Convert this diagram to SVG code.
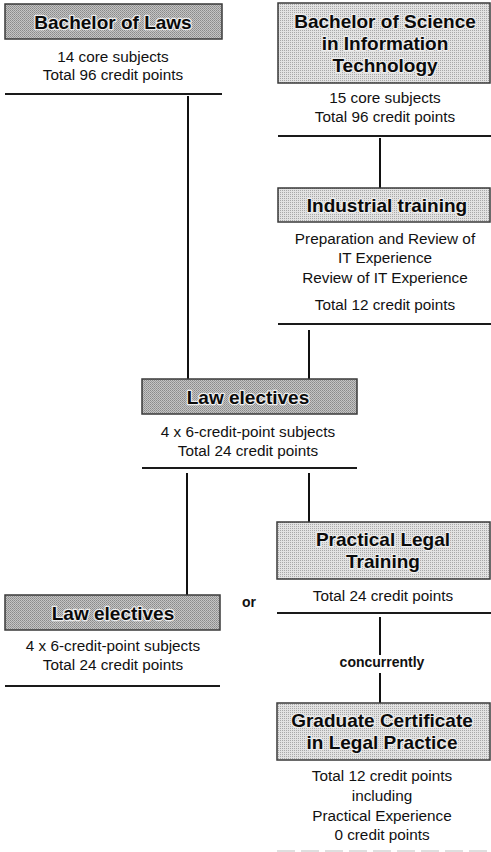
<svg xmlns="http://www.w3.org/2000/svg" width="491" height="852" viewBox="0 0 491 852">
<defs>
<pattern id="htDark" width="2" height="2" patternUnits="userSpaceOnUse">
<rect width="2" height="2" fill="#c4c4c4"/>
<rect width="1" height="1" fill="#8a8a8a"/>
<rect x="1" y="1" width="1" height="1" fill="#9a9a9a"/>
</pattern>
<pattern id="htLight" width="2" height="2" patternUnits="userSpaceOnUse">
<rect width="2" height="2" fill="#e2e2e2"/>
<rect width="1" height="1" fill="#a8a8a8"/>
</pattern>
<style>
.box{stroke:#3a3a3a;stroke-width:1.5}
.dark{fill:url(#htDark)}
.light{fill:url(#htLight)}
.title{font-family:"Liberation Sans",Arial,sans-serif;font-weight:bold;font-size:19px;fill:#0a0a0a;text-anchor:middle;stroke:#ececec;stroke-width:2.5;paint-order:stroke;stroke-linejoin:round}
.body{font-family:"Liberation Sans",Arial,sans-serif;font-size:15.3px;fill:#111;text-anchor:middle}
.lbl{font-family:"Liberation Sans",Arial,sans-serif;font-weight:bold;font-size:14px;fill:#111;text-anchor:middle}
.rule{stroke:#1a1a1a;stroke-width:2}
.conn{stroke:#111;stroke-width:2;fill:none}
</style>
</defs>
<rect width="491" height="852" fill="#ffffff"/>

<g id="connectors">
<line class="conn" x1="188" y1="96" x2="188" y2="379"/>
<line class="conn" x1="380" y1="138" x2="380" y2="188"/>
<line class="conn" x1="309" y1="330" x2="309" y2="379"/>
<line class="conn" x1="187" y1="473" x2="187" y2="595"/>
<line class="conn" x1="309" y1="473" x2="309" y2="522"/>
<line class="conn" x1="380" y1="617" x2="380" y2="655"/>
<line class="conn" x1="380" y1="673" x2="380" y2="703"/>
<text class="lbl" x="382" y="667">concurrently</text>
<text class="lbl" x="249" y="607">or</text>
</g>

<g id="bachelor-laws">
<rect class="box dark" x="5" y="4" width="217" height="35"/>
<text class="title" x="113" y="29" font-size="18.5">Bachelor of Laws</text>
<text class="body" x="113" y="62">14 core subjects</text>
<text class="body" x="113" y="80">Total 96 credit points</text>
<line class="rule" x1="5" y1="94" x2="222" y2="94"/>
</g>

<g id="bachelor-it">
<rect class="box light" x="278" y="3" width="212" height="80"/>
<text class="title" x="385" y="28">Bachelor of Science</text>
<text class="title" x="385" y="50">in Information</text>
<text class="title" x="385" y="72">Technology</text>
<text class="body" x="385" y="103">15 core subjects</text>
<text class="body" x="385" y="122">Total 96 credit points</text>
<line class="rule" x1="278" y1="136" x2="491" y2="136"/>
</g>

<g id="industrial-training">
<rect class="box light" x="278" y="188" width="212" height="34"/>
<text class="title" x="387" y="212">Industrial training</text>
<text class="body" x="385" y="244">Preparation and Review of</text>
<text class="body" x="385" y="263">IT Experience</text>
<text class="body" x="385" y="283">Review of IT Experience</text>
<text class="body" x="385" y="310">Total 12 credit points</text>
<line class="rule" x1="278" y1="324" x2="491" y2="324"/>
</g>

<g id="law-electives-1">
<rect class="box dark" x="142" y="379" width="215" height="35"/>
<text class="title" x="248" y="404">Law electives</text>
<text class="body" x="248" y="437">4 x 6-credit-point subjects</text>
<text class="body" x="248" y="456">Total 24 credit points</text>
<line class="rule" x1="142" y1="468" x2="357" y2="468"/>
</g>

<g id="practical-legal-training">
<rect class="box light" x="277" y="522" width="213" height="57"/>
<text class="title" x="383" y="546">Practical Legal</text>
<text class="title" x="383" y="568">Training</text>
<text class="body" x="383" y="601">Total 24 credit points</text>
<line class="rule" x1="277" y1="613" x2="491" y2="613"/>
</g>

<g id="law-electives-2">
<rect class="box dark" x="5" y="595" width="215" height="35"/>
<text class="title" x="113" y="620">Law electives</text>
<text class="body" x="113" y="651">4 x 6-credit-point subjects</text>
<text class="body" x="113" y="670">Total 24 credit points</text>
<line class="rule" x1="5" y1="686" x2="220" y2="686"/>
</g>

<g id="graduate-certificate">
<rect class="box light" x="277" y="703" width="213" height="57"/>
<text class="title" x="382" y="727">Graduate Certificate</text>
<text class="title" x="382" y="749">in Legal Practice</text>
<text class="body" x="382" y="781">Total 12 credit points</text>
<text class="body" x="382" y="801">including</text>
<text class="body" x="382" y="821">Practical Experience</text>
<text class="body" x="382" y="840">0 credit points</text>
<line x1="277" y1="851" x2="491" y2="851" stroke="#d4d4d4" stroke-width="1.5" stroke-dasharray="18 6"/>
</g>
</svg>
